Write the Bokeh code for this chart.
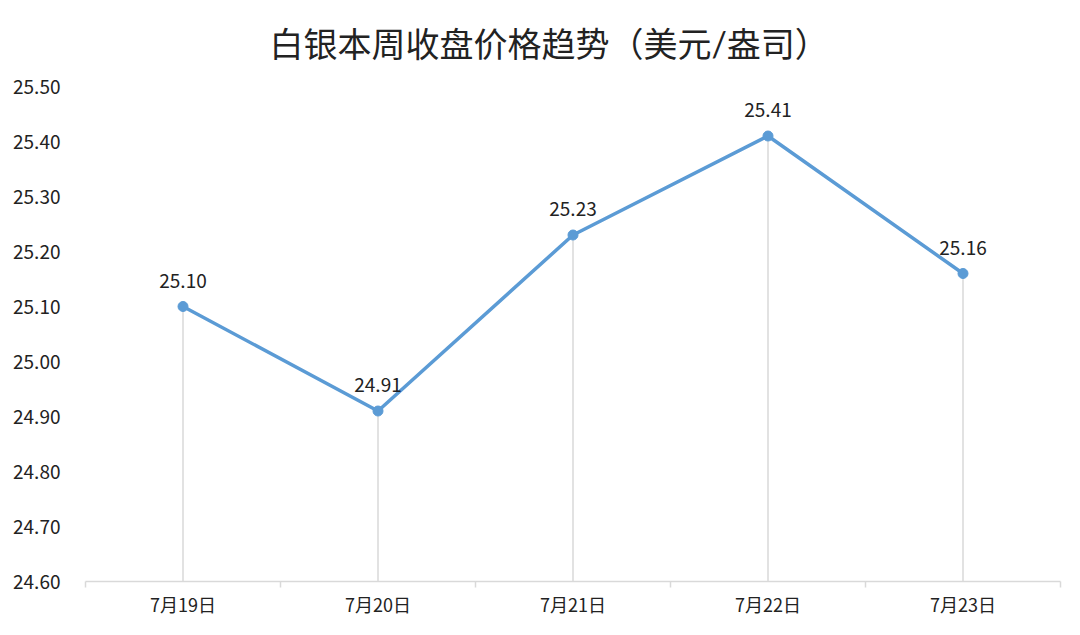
from bokeh.plotting import figure
from bokeh.models import Range1d, FixedTicker, ColumnDataSource
from bokeh.core.properties import value
from bokeh.embed import file_html
from bokeh.resources import INLINE

dates = ["7月19日", "7月20日", "7月21日", "7月22日", "7月23日"]
prices = [25.10, 24.91, 25.23, 25.41, 25.16]
y_ticks = [24.60, 24.70, 24.80, 24.90, 25.00, 25.10, 25.20, 25.30, 25.40, 25.50]
title = "白银本周收盘价格趋势（美元/盎司）"

FONT = "Noto Sans CJK SC"
LINE = "#5b9bd5"
GRID = "#d9d9d9"

xs = list(range(len(dates)))
src = ColumnDataSource(dict(
    x=xs, y=prices, base=[y_ticks[0]] * len(xs),
    label=[f"{v:.2f}" for v in prices],
))

p = figure(width=1064, height=619, output_backend="svg", toolbar_location=None,
           x_range=Range1d(-0.5, len(dates) - 0.5),
           y_range=Range1d(y_ticks[0], y_ticks[-1]),
           min_border_left=85, min_border_right=4, min_border_top=86, min_border_bottom=38)
p.outline_line_color = None
p.grid.visible = False

p.title.text = title
p.title.text_font = "Lato, Noto Sans CJK SC"
p.title.text_font_size = "34px"
p.title.text_font_style = "normal"
p.title.text_color = "#222222"
p.title.align = "left"
p.title.offset = 184
p.title.standoff = 42
p.title.vertical_align = "top"

# drop lines
p.segment(x0="x", y0="base", x1="x", y1="y", source=src, line_color=GRID, line_width=1.5)
p.line(x="x", y="y", source=src, line_color=LINE, line_width=3.5)
p.scatter(x="x", y="y", source=src, size=10, fill_color=LINE, line_color=LINE)
p.text(x="x", y="y", text="label", source=src, text_font=value(FONT),
       text_font_size="19px", text_color="#222222", text_align="center",
       text_baseline="middle", y_offset=-26)

# x axis
xt = FixedTicker(ticks=xs, minor_ticks=[i - 0.5 for i in range(len(dates) + 1)])
p.xaxis.ticker = xt
p.xaxis.major_label_overrides = {i: d for i, d in enumerate(dates)}
p.xaxis.major_tick_line_color = None
p.xaxis.major_tick_out = 0
p.xaxis.major_tick_in = 0
p.xaxis.minor_tick_line_color = GRID
p.xaxis.minor_tick_line_width = 1.5
p.xaxis.minor_tick_in = 0
p.xaxis.minor_tick_out = 6
p.xaxis.axis_line_color = GRID
p.xaxis.axis_line_width = 1.5
p.xaxis.major_label_text_font = FONT
p.xaxis.major_label_text_font_size = "18px"
p.xaxis.major_label_text_color = "#222222"
p.xaxis.major_label_standoff = 3

# y axis
p.yaxis.ticker = FixedTicker(ticks=y_ticks)
p.yaxis.major_label_overrides = {t: f"{t:.2f}" for t in y_ticks}
p.yaxis.axis_line_color = None
p.yaxis.major_tick_line_color = None
p.yaxis.minor_tick_line_color = None
p.yaxis.major_label_text_font = FONT
p.yaxis.major_label_text_font_size = "19px"
p.yaxis.major_label_text_color = "#222222"
p.yaxis.major_label_standoff = 19

open("out.html", "w").write(file_html(p, INLINE))
